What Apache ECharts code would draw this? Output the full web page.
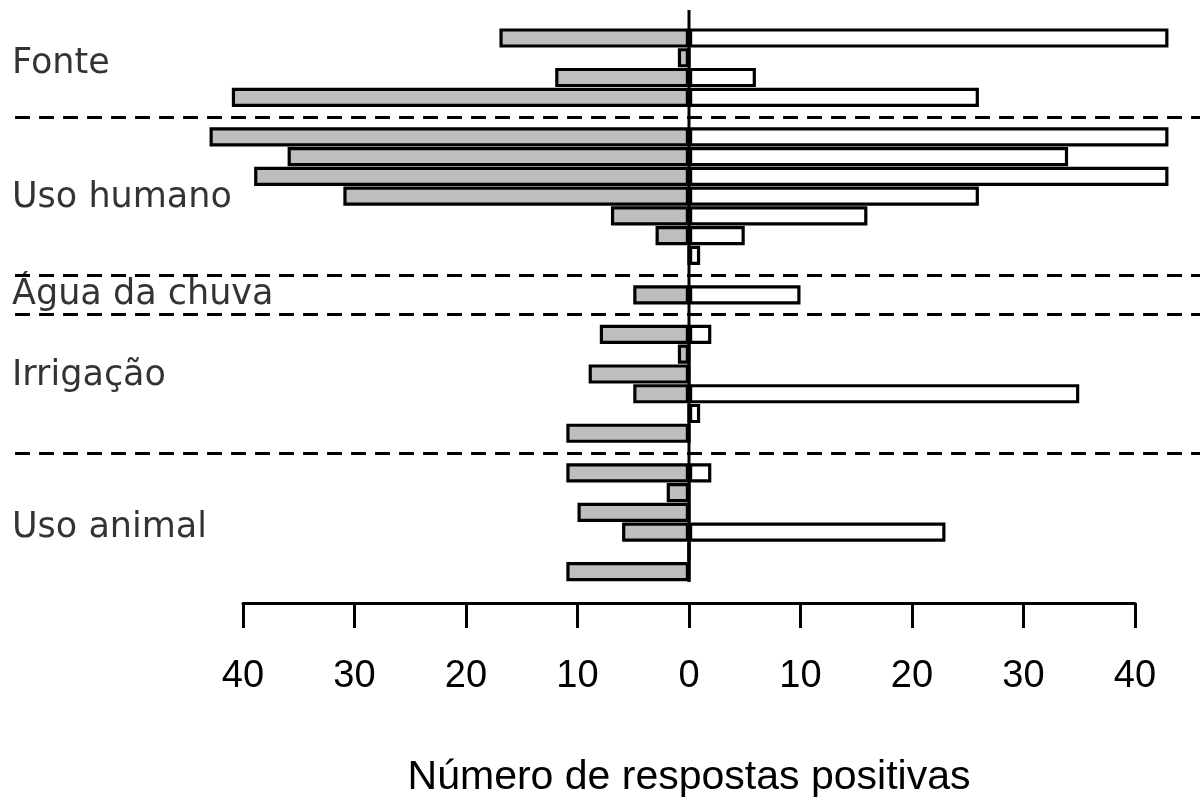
<!DOCTYPE html>
<html><head><meta charset="utf-8">
<script src="https://cdn.jsdelivr.net/npm/echarts@6/dist/echarts.min.js"></script>
<style>html,body{margin:0;padding:0;background:#fff}#c{width:1200px;height:798px}</style>
</head><body><div id="c"></div>
<script>
// 28 row slots (top to bottom); separator slots hold no bars
const slotNames = ['F1','F2','F3','F4','s1','H1','H2','H3','H4','H5','H6','H7','s2','C1','s3','I1','I2','I3','I4','I5','I6','s4','A1','A2','A3','A4','A5','A6'];
// grey bars (left side), read as positive counts
const leftValues  = [17, 1, 12, 41, null, 43, 36, 39, 31, 7, 3, 0, null, 5, null, 8, 1, 9, 5, 0, 11, null, 11, 2, 10, 6, 0, 11];
// white bars (right side)
const rightValues = [43, 0, 6, 26, null, 43, 34, 43, 26, 16, 5, 1, null, 10, null, 2, 0, 0, 35, 1, 0, null, 2, 0, 0, 23, 0, 0];
const separatorSlots = [4, 12, 14, 21];
const groupLabels = ['Fonte', 'Uso humano', 'Água da chuva', 'Irrigação', 'Uso animal'];
const groupLabelPos = [1.33, 8.1, 13.0, 17.1, 24.8];
const axisMin = -40, axisMax = 40, axisStep = 10;
const xTitle = 'Número de respostas positivas';

const chart = echarts.init(document.getElementById('c'), null, {renderer: 'canvas'});
const gTop = 28.1, gBottom = 216.5;
const barStyle = (fill) => ({color: fill, borderColor: '#000', borderWidth: 3.2});
chart.setOption({
  animation: false,
  backgroundColor: '#fff',
  grid: [
    {left: 243, right: 65, top: gTop, bottom: gBottom, outerBoundsMode: 'none', containLabel: false},
    {left: 243, right: 65, top: 10, bottom: 216, outerBoundsMode: 'none', containLabel: false},
    {left: 15, right: 0, top: gTop, bottom: gBottom, outerBoundsMode: 'none', containLabel: false}
  ],
  xAxis: [
    {gridIndex: 0, type: 'value', min: axisMin, max: axisMax, interval: axisStep, position: 'bottom', offset: 21.5,
     axisLine: {show: true, onZero: false, lineStyle: {color: '#000', width: 3}},
     axisTick: {show: true, inside: false, length: 25, lineStyle: {color: '#000', width: 3}},
     axisLabel: {show: true, margin: 55, color: '#000', fontSize: 38, fontFamily: 'Liberation Sans, Arial, sans-serif',
                 formatter: v => String(Math.abs(v))},
     splitLine: {show: false},
     name: xTitle, nameLocation: 'middle', nameGap: 154,
     nameTextStyle: {color: '#000', fontSize: 41, fontFamily: 'Liberation Sans, Arial, sans-serif'}},
    {gridIndex: 1, type: 'value', min: axisMin, max: axisMax, show: false},
    {gridIndex: 2, type: 'value', min: 0, max: 1, show: false}
  ],
  yAxis: [
    {gridIndex: 0, type: 'category', data: slotNames, inverse: true, show: false},
    {gridIndex: 1, type: 'value', min: 0, max: 1, show: false},
    {gridIndex: 2, type: 'value', min: -0.5, max: slotNames.length - 0.5, inverse: true, show: false}
  ],
  series: [
    {type: 'bar', xAxisIndex: 0, yAxisIndex: 0, clip: false, silent: true,
     data: leftValues.map(v => v == null ? null : -v),
     barWidth: 19.2, barGap: '-100%', itemStyle: barStyle('#bebebe')},
    {type: 'bar', xAxisIndex: 0, yAxisIndex: 0, clip: false, silent: true,
     data: rightValues,
     barWidth: 19.2, barGap: '-100%', itemStyle: barStyle('#ffffff')},
    {type: 'line', xAxisIndex: 1, yAxisIndex: 1, silent: true, symbol: 'none', z: 5,
     data: [[0, 0], [0, 1]], lineStyle: {color: '#000', width: 3}},
    {type: 'scatter', xAxisIndex: 2, yAxisIndex: 2, silent: true, symbolSize: 0,
     data: groupLabels.map((t, i) => ({value: [0, groupLabelPos[i]], name: t})),
     label: {show: true, position: 'right', distance: 0, offset: [-3, 0], formatter: p => p.name,
             color: '#000', fontSize: 35, fontFamily: 'DejaVu Sans, Verdana, sans-serif'},
     markLine: {silent: true, symbol: 'none', label: {show: false},
                lineStyle: {color: '#000', width: 3, type: [15, 9]},
                data: separatorSlots.map(s => ({yAxis: s}))}}
  ]
});
</script></body></html>
